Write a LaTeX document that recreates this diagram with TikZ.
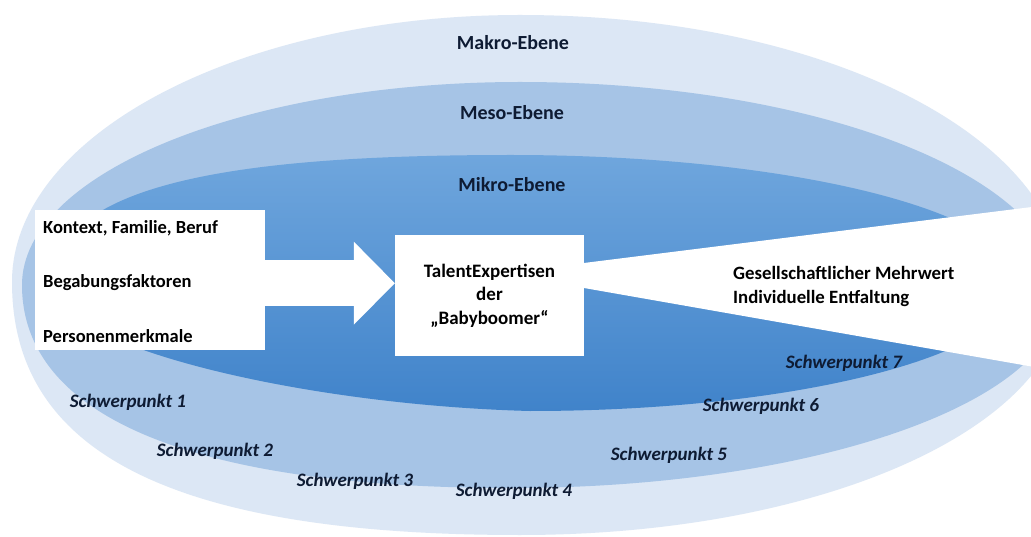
\documentclass[tikz,border=0pt]{standalone}
\usepackage{fontspec}
\setmainfont{Carlito}
\usetikzlibrary{arrows.meta,positioning,calc}

\definecolor{makro}{HTML}{DCE7F5}
\definecolor{meso}{HTML}{A6C4E6}
\definecolor{mikrotop}{HTML}{6FA6DD}
\definecolor{mikrobot}{HTML}{4083CA}
\definecolor{labelblue}{HTML}{0E1B33}

\begin{document}
\begin{tikzpicture}[x=1pt, y=-1pt,
        whitebox/.style={fill=white, draw=none, inner sep=0pt},
        level/.style={font=\fontsize{20}{24}\selectfont\bfseries, text=labelblue},
        focus/.style={font=\fontsize{19}{23}\selectfont\bfseries\itshape, text=labelblue},
        boxtext/.style={font=\fontsize{18.5}{22}\selectfont\bfseries, anchor=west, inner sep=0pt},
        blockarrow/.style={draw=white, line width=46pt, -{Triangle[length=41pt, width=83pt, line width=0pt, fill=white]}}]
    \useasboundingbox (0,0) rectangle (1031,537);
    \fill[white] (0,0) rectangle (1031,537);

    \begin{scope}
        \clip (0,0) rectangle (1031,537);
        % Makro-Ebene
        \fill[makro] (12,282) .. controls (12,135) and (240,15) .. (520,15)
            .. controls (826,15) and (1065,138) .. (1065,290)
            .. controls (1065,425) and (826,535) .. (520,535)
            .. controls (175,535) and (12,454) .. cycle;
        % Meso-Ebene
        \fill[meso] (22,285) .. controls (22,173) and (246,82) .. (520,82)
            .. controls (818,82) and (1060,177) .. (1060,295)
            .. controls (1060,402) and (814,488) .. (511,488)
            .. controls (194,488) and (22,417) .. cycle;
        % Mikro-Ebene
        \shade[top color=mikrotop, bottom color=mikrobot] (52,285) .. controls (52,180) and (250,155) .. (511,155)
            .. controls (792,155) and (1020,212) .. (1020,283)
            .. controls (1020,354) and (800,411) .. (530,411)
            .. controls (300,405) and (52,345) .. cycle;
        % white wedge to the right
        \fill[white] (584,263) -- (1040,206) -- (1040,368) -- (584,288) -- cycle;
    \end{scope}

    \node[level] (makro) at (513,43) {Makro-Ebene};
    \node[level] (meso) at (512,113) {Meso-Ebene};
    \node[level] (mikro) at (512,185) {Mikro-Ebene};

    \node[whitebox, anchor=north west, minimum width=230pt, minimum height=140pt] (factors) at (35,210) {};
    \node[whitebox, minimum width=189pt, minimum height=121pt, align=center,
          font=\fontsize{19}{23.5}\selectfont\bfseries] (talent) at (489.5,295.5) {TalentExpertisen\\der\\„Babyboomer“};
    \draw[blockarrow] ([yshift=-3pt]factors.east) -- ([yshift=-3pt]factors.east -| talent.west); % big white arrow

    \node[boxtext] (kontext) at (43,228) {Kontext, Familie, Beruf};
    \node[boxtext] (begabung) at (43,283) {Begabungsfaktoren};
    \node[boxtext] (person) at (43,336) {Personenmerkmale};

    \node[boxtext, align=left, font=\fontsize{18.8}{24}\selectfont\bfseries] (result) at (733,286) {Gesellschaftlicher Mehrwert\\Individuelle Entfaltung};

    \node[focus] (sp1) at (128,402) {Schwerpunkt 1};
    \node[focus] (sp2) at (215,451) {Schwerpunkt 2};
    \node[focus] (sp3) at (355,481) {Schwerpunkt 3};
    \node[focus] (sp4) at (514,491) {Schwerpunkt 4};
    \node[focus] (sp5) at (669,455) {Schwerpunkt 5};
    \node[focus] (sp6) at (761,406) {Schwerpunkt 6};
    \node[focus] (sp7) at (844,363) {Schwerpunkt 7};
\end{tikzpicture}
\end{document}
